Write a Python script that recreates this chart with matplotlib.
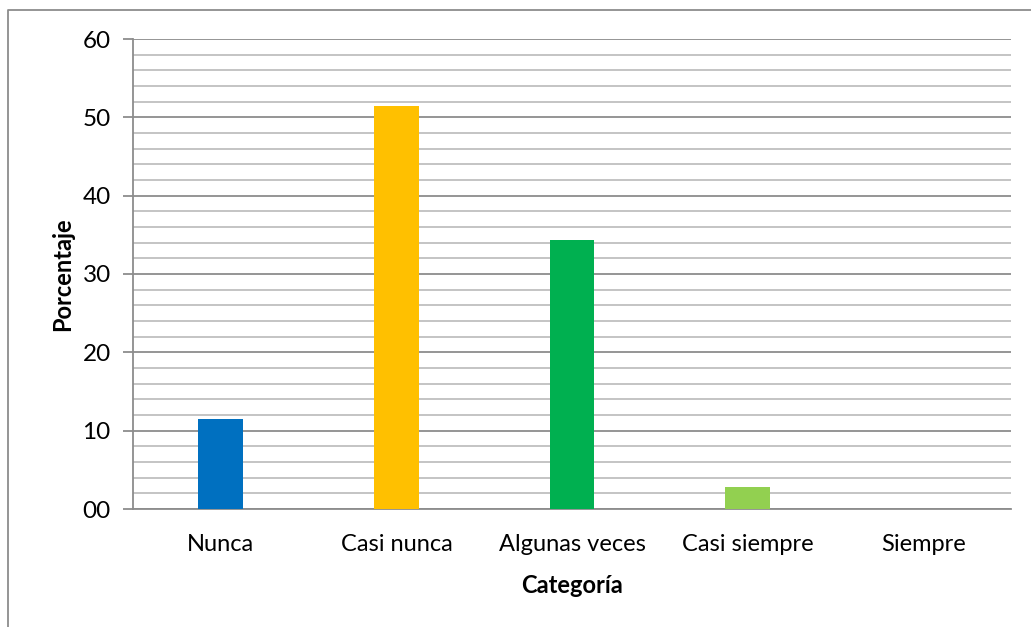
import matplotlib
matplotlib.use("Agg")
import matplotlib.pyplot as plt
from matplotlib.ticker import MultipleLocator, FuncFormatter
from matplotlib.lines import Line2D

categories = ["Nunca", "Casi nunca", "Algunas veces", "Casi siempre", "Siempre"]
percentages = [11.43, 51.43, 34.29, 2.86, 0.0]
bar_colors = ["#0070C0", "#FFC000", "#00B050", "#92D050", "#7F7F7F"]
y_label = "Porcentaje"
x_label = "Categoría"

plt.rcParams["font.family"] = ["Lato", "DejaVu Sans"]

fig = plt.figure(figsize=(10.31, 6.27), dpi=100)
ax = fig.add_axes([133 / 1031, 118 / 627, 878 / 1031, 470 / 627])

x = list(range(len(categories)))
ax.bar(x, percentages, width=0.256, color=bar_colors, zorder=3)

ax.set_xlim(-0.5, len(categories) - 0.5)
ax.set_ylim(0, 60)
ax.yaxis.set_major_locator(MultipleLocator(10))
ax.yaxis.set_minor_locator(MultipleLocator(2))
ax.yaxis.set_major_formatter(FuncFormatter(lambda v, p: f"{v:02.0f}"))

ax.grid(axis="y", which="major", color="#8C8C8C", linewidth=1.3, zorder=0)
ax.grid(axis="y", which="minor", color="#BFBFBF", linewidth=1.3, zorder=0)
ax.grid(axis="x", which="both", visible=False)

for side in ("top", "right"):
    ax.spines[side].set_visible(False)
for side in ("left", "bottom"):
    ax.spines[side].set_color("#8C8C8C")
    ax.spines[side].set_linewidth(1.3)

ax.set_xticks(x)
ax.set_xticklabels(categories, fontsize=17)
ax.tick_params(axis="x", length=0, pad=18)
ax.tick_params(axis="y", which="major", length=7, color="#8C8C8C", width=1.3,
               labelsize=17.5, pad=9)
ax.tick_params(axis="y", which="minor", length=0)

ax.set_ylabel(y_label, fontsize=17, fontweight="bold", labelpad=6)
ax.set_xlabel(x_label, fontsize=17, fontweight="bold", labelpad=14)

# chart frame drawn around the figure (top and left edges)
fig.add_artist(Line2D([7.5 / 1031, 7.5 / 1031, 1.0], [0.0, 1 - 9.5 / 627, 1 - 9.5 / 627],
                      transform=fig.transFigure, color="#8C8C8C", linewidth=1.3))

fig.savefig("out.png", dpi=100)
